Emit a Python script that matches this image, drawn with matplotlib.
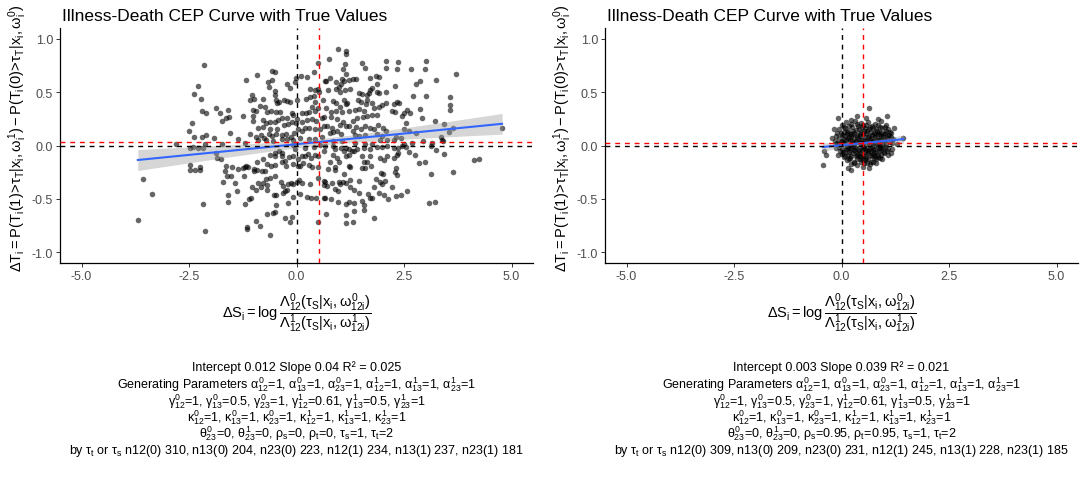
import numpy as np
import matplotlib
matplotlib.use("Agg")
import matplotlib.pyplot as plt

plt.rcParams["font.family"] = ["Liberation Sans", "DejaVu Sans"]
plt.rcParams["mathtext.fontset"] = "custom"
plt.rcParams["mathtext.rm"] = "Liberation Sans"
plt.rcParams["mathtext.it"] = "Liberation Sans"
plt.rcParams["mathtext.bf"] = "Liberation Sans:bold"
plt.rcParams["mathtext.sf"] = "Liberation Sans"

# ---------------------------------------------------------------- data
# (delta S, delta T) pairs, independent surrogate/true endpoints (rho = 0)
LEFT_POINTS = [
    (-2.15, 0.75), (-2.29, 0.56), (-2.38, 0.48), (-2.22, 0.44), (-2.20, 0.32), (-2.10, 0.30),
    (-1.88, 0.35), (-1.78, 0.30), (-1.60, 0.33), (-1.74, 0.23), (-1.64, 0.26), (-1.57, 0.27),
    (-2.43, 0.21), (-2.50, 0.14), (-2.38, 0.08), (-2.20, 0.08), (-2.10, 0.10), (-1.93, 0.07),
    (-1.55, 0.12), (-1.37, 0.06), (-1.18, 0.61), (-0.93, 0.66), (-1.04, 0.47), (-1.08, 0.43),
    (-0.98, 0.44), (-0.58, 0.70), (-0.50, 0.69), (-0.67, 0.59), (-0.58, 0.61), (-0.65, 0.55),
    (-0.51, 0.51), (-0.77, 0.44), (-0.50, 0.47), (-0.48, 0.43), (-0.46, 0.40), (-0.41, 0.41),
    (-0.29, 0.43), (-0.23, 0.42), (-0.14, 0.41), (-0.21, 0.58), (-0.15, 0.54), (-0.03, 0.59),
    (-0.01, 0.63), (0.10, 0.65), (0.24, 0.64), (0.41, 0.69), (0.51, 0.77), (0.68, 0.60),
    (0.32, 0.53), (0.44, 0.52), (0.51, 0.53), (0.02, 0.43), (0.21, 0.44), (0.31, 0.45),
    (0.40, 0.46), (0.42, 0.41), (0.61, 0.43), (0.52, 0.50), (-1.02, 0.33), (-0.94, 0.32),
    (-0.86, 0.37), (-0.73, 0.36), (-0.68, 0.31), (-0.59, 0.32), (-0.48, 0.31), (-0.38, 0.31),
    (-0.33, 0.26), (-0.23, 0.26), (-0.11, 0.30), (-0.08, 0.29), (0.02, 0.25), (0.12, 0.30),
    (0.21, 0.30), (0.30, 0.31), (0.37, 0.36), (0.44, 0.32), (0.49, 0.35), (-1.25, 0.28),
    (-1.02, 0.28), (-1.02, 0.23), (-0.79, 0.24), (-0.72, 0.21), (-0.62, 0.22), (-0.51, 0.22),
    (-0.44, 0.24), (-0.89, 0.16), (-0.77, 0.17), (-0.62, 0.15), (-0.46, 0.15), (-0.30, 0.19),
    (-0.20, 0.20), (-0.11, 0.22), (-0.01, 0.21), (0.12, 0.22), (0.25, 0.24), (0.35, 0.25),
    (0.46, 0.23), (0.60, 0.26), (-1.08, 0.11), (-0.95, 0.08), (-0.82, 0.10), (-0.75, 0.07),
    (-0.65, 0.11), (-0.58, 0.09), (-0.47, 0.11), (-0.34, 0.10), (-0.24, 0.11), (-0.12, 0.08),
    (-0.05, 0.12), (0.04, 0.15), (0.12, 0.14), (0.19, 0.16), (0.30, 0.16), (0.42, 0.15),
    (0.55, 0.15), (0.65, 0.18), (-0.89, 0.05), (-0.72, 0.05), (-0.54, 0.04), (-0.34, 0.06),
    (-0.21, 0.06), (-0.07, 0.05), (0.09, 0.07), (0.28, 0.06), (0.44, 0.06), (0.59, 0.08),
    (-2.80, 0.01), (-2.13, 0.01), (-1.74, 0.01), (-1.20, 0.02),
    (0.97, 0.90), (1.15, 0.88), (1.16, 0.86), (0.76, 0.81), (1.13, 0.76), (1.08, 0.72),
    (1.53, 0.77), (1.60, 0.73), (2.09, 0.79), (2.08, 0.73), (2.37, 0.78), (2.34, 0.72),
    (2.66, 0.72), (3.01, 0.79), (2.98, 0.72), (1.14, 0.665), (1.06, 0.62), (1.10, 0.60),
    (1.21, 0.615), (1.31, 0.62), (1.38, 0.62), (0.79, 0.63), (0.67, 0.60), (0.92, 0.59),
    (0.98, 0.55), (1.03, 0.58), (0.93, 0.53), (1.71, 0.63), (1.86, 0.65), (1.92, 0.64),
    (1.88, 0.58), (2.28, 0.56), (2.79, 0.58), (2.87, 0.60), (3.24, 0.61), (3.72, 0.67),
    (0.74, 0.515), (1.00, 0.50), (1.12, 0.52), (1.25, 0.53), (1.46, 0.49), (1.52, 0.48),
    (1.65, 0.475), (1.70, 0.52), (1.76, 0.54), (1.68, 0.49), (1.88, 0.505), (1.93, 0.49),
    (2.09, 0.505), (2.72, 0.46), (3.00, 0.465), (3.57, 0.45), (3.57, 0.38), (3.56, 0.33),
    (0.86, 0.42), (0.93, 0.40), (1.11, 0.43), (1.02, 0.365), (1.14, 0.39), (1.18, 0.40),
    (1.43, 0.43), (1.49, 0.41), (1.61, 0.39), (1.64, 0.43), (1.76, 0.40), (1.80, 0.35),
    (1.92, 0.365), (1.99, 0.375), (2.09, 0.40), (2.26, 0.39), (2.34, 0.41), (2.39, 0.40),
    (2.23, 0.32), (2.29, 0.31), (2.50, 0.30), (2.58, 0.33), (2.64, 0.30), (2.46, 0.28),
    (2.87, 0.34), (2.91, 0.26), (3.22, 0.23), (3.43, 0.20), (3.63, 0.16), (3.54, 0.13),
    (4.78, 0.16), (0.69, 0.35), (0.80, 0.31), (0.93, 0.325), (1.06, 0.31), (1.23, 0.32),
    (1.35, 0.33), (1.46, 0.345), (1.57, 0.325), (1.41, 0.255), (1.55, 0.265), (1.64, 0.275),
    (1.76, 0.29), (1.88, 0.29), (0.65, 0.265), (0.80, 0.27), (0.94, 0.245), (1.08, 0.22),
    (1.00, 0.19), (1.15, 0.18), (1.21, 0.18), (1.32, 0.23), (1.39, 0.17), (1.50, 0.15),
    (1.59, 0.18), (1.72, 0.16), (1.81, 0.15), (1.89, 0.19), (2.00, 0.16), (2.07, 0.14),
    (2.54, 0.215), (2.50, 0.15), (2.61, 0.14), (2.78, 0.115), (3.36, 0.075), (3.39, 0.05),
    (0.71, 0.18), (0.83, 0.16), (0.77, 0.115), (0.86, 0.13), (0.94, 0.14), (1.04, 0.105),
    (1.32, 0.14), (1.37, 0.10), (1.45, 0.09), (1.60, 0.10), (1.88, 0.11), (1.99, 0.085),
    (2.31, 0.08), (2.44, 0.07), (0.86, 0.04), (1.06, 0.04), (1.37, 0.02), (1.60, 0.01),
    (1.76, 0.015), (1.95, 0.05), (2.11, 0.05), (2.27, 0.05), (2.50, 0.015), (2.69, 0.02),
    (2.95, 0.04), (3.16, 0.02), (3.40, 0.04),
    (-3.56, -0.31), (-3.36, -0.45), (-3.69, -0.70), (-2.48, -0.18), (-2.48, -0.23),
    (-2.37, -0.23), (-2.24, -0.20), (-2.24, -0.225), (-2.48, -0.025), (-2.41, -0.016),
    (-2.29, -0.025), (-2.17, -0.019), (-1.88, -0.066), (-1.85, -0.12), (-1.76, -0.125),
    (-2.18, -0.55), (-2.12, -0.80), (-1.63, -0.19), (-1.67, -0.24), (-1.61, -0.285),
    (-1.53, -0.285), (-1.44, -0.35), (-1.72, -0.34), (-1.51, -0.20), (-1.35, -0.22),
    (-1.24, -0.21), (-1.20, -0.20), (-1.17, -0.19), (-1.12, -0.20), (-0.98, -0.22),
    (-1.21, -0.285), (-1.38, -0.425), (-1.60, -0.46), (-1.60, -0.525), (-1.19, -0.55),
    (-1.11, -0.50), (-1.06, -0.49), (-1.15, -0.765), (-1.14, -0.78), (-0.94, -0.71),
    (-0.86, -0.75), (-0.62, -0.84), (-1.04, -0.39), (-0.95, -0.42), (-0.90, -0.35),
    (-0.83, -0.39), (-0.78, -0.35), (-0.71, -0.31), (-0.62, -0.30), (-1.00, -0.24),
    (-0.91, -0.23), (-0.81, -0.24), (-0.73, -0.24), (-0.68, -0.17), (-0.59, -0.19),
    (-0.49, -0.18), (-0.93, -0.15), (-0.77, -0.13), (-0.62, -0.09), (-0.51, -0.10),
    (-0.50, -0.066), (-0.40, -0.047), (-0.33, -0.066), (-0.33, -0.094), (-0.26, -0.144),
    (-0.17, -0.11), (-0.09, -0.097), (-0.03, -0.034), (0.03, -0.128), (0.12, -0.10),
    (0.20, -0.097), (0.26, -0.075), (0.34, -0.12), (0.42, -0.09), (0.51, -0.10),
    (0.63, -0.056), (-0.34, -0.15), (-0.25, -0.19), (-0.07, -0.17), (0.03, -0.19),
    (0.16, -0.165), (0.28, -0.18), (0.37, -0.197), (0.51, -0.197), (0.09, -0.19),
    (-0.51, -0.29), (-0.36, -0.34), (-0.32, -0.38), (-0.20, -0.36), (-0.12, -0.35),
    (-0.07, -0.36), (0.01, -0.34), (0.05, -0.32), (0.12, -0.35), (0.32, -0.36),
    (0.51, -0.30), (-0.69, -0.37), (-0.68, -0.42), (-0.52, -0.46), (-0.48, -0.46),
    (-0.31, -0.44), (-0.26, -0.425), (-0.21, -0.415), (-0.07, -0.48), (0.09, -0.45),
    (0.25, -0.48), (0.34, -0.49), (0.46, -0.49), (0.63, -0.49), (-0.20, -0.54),
    (-0.48, -0.56), (-0.49, -0.62), (-0.54, -0.63), (-0.68, -0.64), (-0.26, -0.68),
    (-0.14, -0.72), (-0.11, -0.67), (0.51, -0.72), (0.67, -0.34), (0.63, -0.37),
    (0.20, -0.025), (0.40, -0.01), (0.55, 0.006), (-0.09, 0.006),
    (0.67, -0.006), (0.86, 0.0), (0.89, -0.03), (1.04, -0.019), (1.14, -0.025),
    (1.21, -0.034), (1.28, -0.056), (1.33, -0.05), (1.41, -0.03), (1.57, -0.025),
    (1.72, -0.03), (1.88, -0.01), (1.99, -0.016), (2.11, 0.0), (2.27, -0.025),
    (2.36, -0.025), (2.46, 0.0), (2.54, -0.01), (2.62, -0.06), (2.75, -0.087),
    (3.12, 0.0), (3.24, -0.04), (3.42, -0.078), (0.86, -0.087), (0.94, -0.12),
    (1.14, -0.10), (1.21, -0.087), (1.10, -0.056), (0.79, -0.156), (0.90, -0.197),
    (0.98, -0.156), (1.21, -0.19), (1.24, -0.197), (1.53, -0.10), (1.57, -0.15),
    (1.64, -0.15), (1.71, -0.10), (1.74, -0.19), (1.60, -0.21), (1.53, -0.21),
    (1.95, -0.12), (2.03, -0.134), (2.11, -0.094), (2.27, -0.12), (2.33, -0.087),
    (2.37, -0.066), (2.85, -0.16), (2.99, -0.15), (2.31, -0.21), (2.28, -0.25),
    (2.34, -0.275), (3.12, -0.265), (3.64, -0.25), (4.12, -0.14), (4.25, -0.13),
    (0.73, -0.22), (0.89, -0.23), (1.11, -0.265), (0.63, -0.33), (0.71, -0.38),
    (0.83, -0.35), (0.98, -0.34), (1.00, -0.36), (1.07, -0.34), (1.14, -0.35),
    (1.25, -0.32), (1.45, -0.33), (0.90, -0.41), (0.97, -0.43), (1.25, -0.39),
    (1.34, -0.415), (1.45, -0.44), (1.67, -0.45), (1.80, -0.39), (1.76, -0.49),
    (1.72, -0.49), (1.86, -0.31), (1.95, -0.34), (1.99, -0.36), (2.05, -0.33),
    (1.97, -0.26), (2.02, -0.265), (2.23, -0.39), (2.32, -0.47), (2.44, -0.46),
    (2.56, -0.43), (2.03, -0.46), (2.13, -0.50), (1.93, -0.44), (0.67, -0.49),
    (0.80, -0.50), (0.96, -0.53), (1.14, -0.55), (1.23, -0.53), (1.34, -0.54),
    (1.53, -0.52), (1.57, -0.56), (1.56, -0.60), (1.34, -0.61), (0.68, -0.64),
    (1.16, -0.65), (1.16, -0.73), (1.32, -0.72), (1.80, -0.68), (3.08, -0.54),
    (3.22, -0.53),
]

# (delta S, delta T) pairs, correlated endpoints (rho = 0.95)
RIGHT_POINTS = [
    (0.65, 0.35), (1.05, 0.28), (-0.09, 0.26), (-0.44, -0.18), (-0.40, -0.05), (-0.36, -0.09),
    (0.14, -0.21), (0.23, -0.23), (0.49, -0.20), (0.64, -0.21), (0.80, -0.16), (1.07, -0.09),
    (1.15, -0.07), (1.22, 0.16), (1.44, 0.07), (1.30, 0.01), (1.17, -0.03), (0.37, 0.28),
    (0.84, 0.25), (0.57, 0.26), (0.22, 0.24), (-0.17, 0.15), (-0.21, 0.07), (-0.13, 0.01),
    (-0.09, -0.09), (1.03, 0.19), (1.15, 0.12), (0.95, -0.13),
    (0.10, 0.22), (0.31, 0.23), (0.45, 0.21), (0.62, 0.22), (0.77, 0.20), (0.92, 0.23),
    (0.02, 0.19), (0.18, 0.18), (0.36, 0.20), (0.51, 0.19), (0.70, 0.18), (0.86, 0.19), (1.00, 0.17),
    (-0.05, 0.15), (0.08, 0.16), (0.25, 0.17), (0.40, 0.15), (0.55, 0.16), (0.66, 0.17),
    (0.81, 0.15), (0.95, 0.16), (1.08, 0.15),
    (-0.10, 0.12), (0.05, 0.13), (0.15, 0.14), (0.30, 0.12), (0.45, 0.13), (0.60, 0.14),
    (0.75, 0.12), (0.88, 0.13), (1.02, 0.12), (1.12, 0.13),
    (-0.12, 0.09), (0.00, 0.10), (0.12, 0.11), (0.22, 0.09), (0.36, 0.10), (0.50, 0.11),
    (0.63, 0.09), (0.72, 0.10), (0.84, 0.11), (0.97, 0.09), (1.10, 0.10),
    (-0.06, 0.07), (0.06, 0.06), (0.18, 0.08), (0.28, 0.07), (0.40, 0.06), (0.55, 0.08),
    (0.68, 0.07), (0.80, 0.06), (0.92, 0.08), (1.05, 0.07), (1.20, 0.06),
    (-0.15, 0.04), (-0.02, 0.03), (0.10, 0.05), (0.24, 0.04), (0.34, 0.03), (0.46, 0.05),
    (0.58, 0.04), (0.70, 0.03), (0.86, 0.05), (0.98, 0.04), (1.12, 0.03),
    (-0.08, 0.01), (0.04, 0.02), (0.16, 0.00), (0.30, 0.01), (0.42, 0.02), (0.52, 0.00),
    (0.64, 0.01), (0.76, 0.02), (0.90, 0.00), (1.03, 0.01),
    (-0.12, -0.02), (0.00, -0.03), (0.12, -0.01), (0.22, -0.02), (0.36, -0.03), (0.48, -0.01),
    (0.60, -0.02), (0.73, -0.03), (0.84, -0.01), (0.96, -0.02), (1.08, -0.03),
    (-0.04, -0.05), (0.08, -0.06), (0.20, -0.04), (0.32, -0.05), (0.44, -0.06), (0.56, -0.04),
    (0.68, -0.05), (0.80, -0.06), (0.93, -0.04), (1.05, -0.05),
    (0.02, -0.08), (0.14, -0.09), (0.26, -0.07), (0.38, -0.08), (0.50, -0.09), (0.62, -0.07),
    (0.74, -0.08), (0.86, -0.09), (0.98, -0.07),
    (0.06, -0.11), (0.20, -0.12), (0.33, -0.10), (0.46, -0.11), (0.58, -0.12), (0.70, -0.10),
    (0.84, -0.11),
    (0.12, -0.14), (0.28, -0.15), (0.42, -0.13), (0.55, -0.14), (0.68, -0.15), (0.80, -0.13),
    (0.22, -0.17), (0.36, -0.18), (0.52, -0.16), (0.66, -0.17),
    (0.27, 0.135), (0.42, 0.085), (0.58, 0.115), (0.33, 0.045), (0.49, 0.025), (0.66, 0.055),
    (0.79, 0.085), (0.15, 0.065), (0.26, -0.005), (0.41, -0.045), (0.55, -0.065), (0.71, -0.015),
    (0.87, 0.025), (0.19, 0.105), (0.63, 0.155), (0.47, 0.175), (0.35, -0.085), (0.78, -0.035),
    (0.10, -0.035), (0.93, 0.115),
    (0.05, 0.17), (0.21, 0.205), (0.39, 0.185), (0.57, 0.195), (0.74, 0.165), (0.89, 0.17),
    (1.03, 0.14), (0.13, 0.125), (0.34, 0.145), (0.52, 0.135), (0.69, 0.125), (0.83, 0.14),
    (0.99, 0.105), (-0.02, 0.115), (0.09, 0.085), (0.25, 0.105), (0.44, 0.105), (0.61, 0.075),
    (0.77, 0.105), (0.90, 0.095), (1.07, 0.085), (0.02, 0.045), (0.20, 0.055), (0.37, 0.075),
    (0.53, 0.055), (0.73, 0.045), (0.89, 0.055), (1.01, 0.055), (1.15, 0.08), (-0.10, 0.025),
    (0.08, 0.015), (0.27, 0.025), (0.45, 0.015), (0.62, 0.03), (0.81, 0.01), (0.95, 0.02),
    (1.17, 0.02), (-0.05, -0.015), (0.15, -0.025), (0.31, -0.015), (0.53, -0.025), (0.67, -0.035),
    (0.90, -0.025), (1.02, -0.01), (0.03, -0.06), (0.17, -0.065), (0.28, -0.045), (0.47, -0.045),
    (0.61, -0.055), (0.75, -0.07), (0.88, -0.05), (0.99, -0.06), (0.09, -0.095), (0.23, -0.10),
    (0.43, -0.095), (0.55, -0.10), (0.66, -0.09), (0.79, -0.10), (0.92, -0.085), (0.17, -0.13),
    (0.36, -0.125), (0.49, -0.135), (0.62, -0.125), (0.75, -0.12), (0.90, -0.115), (0.30, -0.16),
    (0.46, -0.155), (0.60, -0.16), (0.73, -0.15),
]

left_ds, left_dt = np.array(LEFT_POINTS).T
right_ds, right_dt = np.array(RIGHT_POINTS).T

# fitted regression (intercept, slope, R^2) and sample means
left_fit = (0.012, 0.04, 0.025)
right_fit = (0.003, 0.039, 0.021)
left_means = (0.53, 0.033)
right_means = (0.51, 0.023)

x_ticks = [-5.0, -2.5, 0.0, 2.5, 5.0]
y_ticks = [-1.0, -0.5, 0.0, 0.5, 1.0]

title = "Illness-Death CEP Curve with True Values"
ylab = (r"$\Delta T_i = P(T_i(1)\!>\!\tau_T|x_i,\omega_i^1) - "
        r"P(T_i(0)\!>\!\tau_T|x_i,\omega_i^0)$")
xlab = (r"$\Delta S_i = \log\dfrac{\Lambda_{12}^0(\tau_S|x_i,\omega_{12i}^0)}"
        r"{\Lambda_{12}^1(\tau_S|x_i,\omega_{12i}^1)}$")

param_lines = [
    r"Generating Parameters $\alpha_{12}^0$=1, $\alpha_{13}^0$=1, $\alpha_{23}^0$=1, "
    r"$\alpha_{12}^1$=1, $\alpha_{13}^1$=1, $\alpha_{23}^1$=1",
    r"$\gamma_{12}^0$=1, $\gamma_{13}^0$=0.5, $\gamma_{23}^0$=1, $\gamma_{12}^1$=0.61, "
    r"$\gamma_{13}^1$=0.5, $\gamma_{23}^1$=1",
    r"$\kappa_{12}^0$=1, $\kappa_{13}^0$=1, $\kappa_{23}^0$=1, $\kappa_{12}^1$=1, "
    r"$\kappa_{13}^1$=1, $\kappa_{23}^1$=1",
]
left_rho = ("0", "0")
right_rho = ("0.95", "0.95")
left_counts = [310, 204, 223, 234, 237, 181]
right_counts = [309, 209, 231, 245, 228, 185]
count_names = ["n12(0)", "n13(0)", "n23(0)", "n12(1)", "n13(1)", "n23(1)"]

# ---------------------------------------------------------------- drawing
W, H = 1080, 481
fig = plt.figure(figsize=(W / 100, H / 100), dpi=100)
fig.patch.set_facecolor("white")

panel_w, panel_h = 473, 235
panel_top = 29
panels = [(60, left_ds, left_dt, left_fit, left_means, left_rho, left_counts),
          (605, right_ds, right_dt, right_fit, right_means, right_rho, right_counts)]

for left_px, ds, dt, fit, means, rho, counts in panels:
    ax = fig.add_axes([left_px / W, 1 - (panel_top + panel_h) / H, panel_w / W, panel_h / H])
    a, b, r2 = fit

    ax.scatter(ds, dt, s=16, c="black", alpha=0.6, linewidths=0, zorder=2)

    # least-squares line with 95% confidence band
    xs = np.linspace(ds.min(), ds.max(), 120)
    yhat = a + b * xs
    resid = dt - (a + b * ds)
    n = len(ds)
    sigma = np.sqrt(np.sum(resid ** 2) / (n - 2))
    sxx = np.sum((ds - ds.mean()) ** 2)
    se = sigma * np.sqrt(1.0 / n + (xs - ds.mean()) ** 2 / sxx)
    ax.fill_between(xs, yhat - 1.96 * se, yhat + 1.96 * se, color="#999999",
                    alpha=0.4, linewidth=0, zorder=3)
    ax.plot(xs, yhat, color="#3366FF", lw=1.5, zorder=4)

    dash = (0, (3.5, 3.5))
    ax.axvline(0, color="black", ls=dash, lw=1.0, zorder=5)
    ax.axhline(0, color="black", ls=dash, lw=1.0, zorder=5)
    ax.axvline(means[0], color="#FF0000", ls=dash, lw=1.0, zorder=6)
    ax.axhline(means[1], color="#FF0000", ls=dash, lw=1.0, zorder=6)

    ax.set_xlim(-5.5, 5.5)
    ax.set_ylim(-1.1, 1.1)
    ax.set_xticks(x_ticks)
    ax.set_xticklabels([f"{t:.1f}" for t in x_ticks])
    ax.set_yticks(y_ticks)
    ax.set_yticklabels([f"{t:.1f}" for t in y_ticks])
    for side in ("top", "right"):
        ax.spines[side].set_visible(False)
    for side in ("left", "bottom"):
        ax.spines[side].set_linewidth(0.9)
        ax.spines[side].set_color("black")
    ax.tick_params(length=3, width=0.7, color="#333333", labelcolor="#4D4D4D",
                   labelsize=9, pad=2)

    cx = left_px + panel_w / 2
    fig.text((left_px + 2) / W, 1 - 21 / H, title, fontsize=12.5, ha="left", va="baseline")
    fig.text((left_px - 42) / W, 1 - 138 / H, ylab, rotation=90,
             fontsize=10.5, ha="center", va="center")
    fig.text(cx / W, 1 - 313 / H, xlab, fontsize=10.5, ha="center", va="center")

    caption = [f"Intercept {a:g} Slope {b:g} R\u00b2 = {r2:g}"] + param_lines + [
        r"$\theta_{23}^0$=0, $\theta_{23}^1$=0, "
        rf"$\rho_s$={rho[0]}, $\rho_t$={rho[1]}, $\tau_s$=1, $\tau_t$=2",
        r"by $\tau_t$ or $\tau_s$ " + ", ".join(f"{nm} {c}" for nm, c in zip(count_names, counts)),
    ]
    line_y = [368, 385, 402, 418, 434, 451]
    for txt, yy in zip(caption, line_y):
        fig.text(cx / W, 1 - yy / H, txt, fontsize=9.0, ha="center", va="center")

fig.savefig("out.png", dpi=100, facecolor="white")
